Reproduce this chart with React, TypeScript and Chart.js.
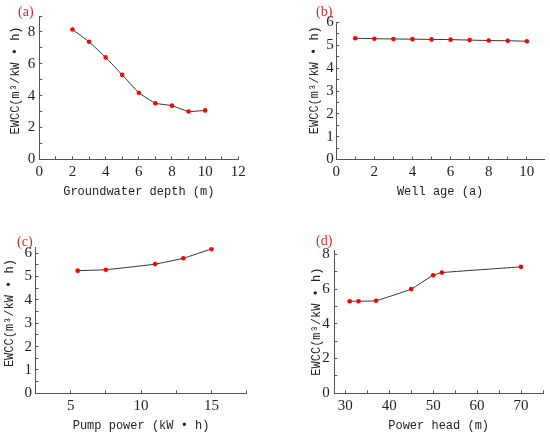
import { useEffect, useRef } from 'react'
import Chart from 'chart.js/auto'

// (a) groundwater depth
const depthX = [2, 3, 4, 5, 6, 7, 8, 9, 10]
const depthEwcc = [8.15, 7.38, 6.4, 5.3, 4.18, 3.52, 3.37, 3.0, 3.07]
const depthTicks = [0, 2, 4, 6, 8, 10, 12]

// (b) well age
const ageX = [1, 2, 3, 4, 5, 6, 7, 8, 9, 10]
const ageEwcc = [5.31, 5.29, 5.28, 5.27, 5.26, 5.25, 5.23, 5.21, 5.2, 5.18]
const ageTicks = [0, 2, 4, 6, 8, 10]

// (c) pump power
const pumpX = [5.5, 7.5, 11, 13, 15]
const pumpEwcc = [5.25, 5.29, 5.53, 5.78, 6.18]
const pumpTicks = [5, 10, 15]

// (d) power head
const headX = [31, 33, 37, 45, 50, 52, 70]
const headEwcc = [5.3, 5.3, 5.33, 6.0, 6.8, 6.95, 7.28]
const headTicks = [30, 40, 50, 60, 70]

const ewccEvenTicks = [0, 2, 4, 6, 8]
const ewccUnitTicks = [0, 1, 2, 3, 4, 5, 6]

const Y_TITLE = 'EWCC(m³/kW • h)'

interface PanelProps {
  tag: string
  xs: number[]
  ys: number[]
  xTitle: string
  xMin: number
  xMax: number
  xStep: number
  xLabels: number[]
  yMax: number
  yStep: number
  yLabels: number[]
  box: { left: number; top: number; width: number; height: number }
  area: { left: number; top: number; right: number; bottom: number }
  yTickPad: number
  yTitlePad: number
  yTitleLead: number
  xTitlePad: number
  tagPos: { left: number; top: number }
}

function Panel(p: PanelProps) {
  const chartRef = useRef<HTMLCanvasElement>(null)
  const chartInstance = useRef<Chart | null>(null)

  useEffect(() => {
    if (!chartRef.current) return
    if (chartInstance.current) chartInstance.current.destroy()
    const ctx = chartRef.current.getContext('2d')
    if (!ctx) return

    const yAxisWidth = p.area.left
    const xAxisHeight = p.box.height - p.area.bottom
    const axisColor = '#555'
    // leading spaces nudge the rotated title up, as in the original figure
    const yTitle = ' '.repeat(p.yTitleLead) + Y_TITLE

    chartInstance.current = new Chart(ctx, {
      type: 'line',
      data: {
        datasets: [
          {
            data: p.xs.map((x, i) => ({ x, y: p.ys[i] })),
            borderColor: '#333',
            borderWidth: 1,
            pointRadius: 2.3,
            pointBackgroundColor: '#ff0000',
            pointBorderWidth: 0,
            tension: 0.1,
            fill: false
          }
        ]
      },
      options: {
        animation: false,
        responsive: true,
        maintainAspectRatio: false,
        events: [],
        layout: {
          padding: { left: 0, top: p.area.top, right: p.box.width - p.area.right, bottom: 0 }
        },
        plugins: {
          legend: { display: false },
          tooltip: { enabled: false }
        },
        scales: {
          x: {
            type: 'linear',
            min: p.xMin,
            max: p.xMax,
            afterFit: (scale) => {
              scale.height = xAxisHeight
            },
            border: { display: true, color: axisColor, width: 1 },
            grid: { drawOnChartArea: false, drawTicks: true, tickLength: -3, color: axisColor },
            ticks: {
              stepSize: p.xStep,
              includeBounds: false,
              autoSkip: false,
              maxRotation: 0,
              padding: 7,
              color: '#222',
              font: { family: 'Liberation Serif', size: 15 },
              callback: (v) => (p.xLabels.includes(Number(v)) ? String(v) : '')
            },
            title: {
              display: true,
              text: p.xTitle,
              color: '#222',
              font: { family: 'Liberation Mono', size: 12 },
              padding: { top: 0, bottom: p.xTitlePad }
            }
          },
          y: {
            type: 'linear',
            min: 0,
            max: p.yMax,
            afterFit: (scale) => {
              scale.width = yAxisWidth
            },
            border: { display: true, color: axisColor, width: 1 },
            grid: { drawOnChartArea: false, drawTicks: true, tickLength: -3, color: axisColor },
            ticks: {
              stepSize: p.yStep,
              includeBounds: false,
              autoSkip: false,
              padding: p.yTickPad,
              color: '#222',
              font: { family: 'Liberation Serif', size: 15 },
              callback: (v) => (p.yLabels.includes(Number(v)) ? String(v) : '')
            },
            title: {
              display: true,
              text: yTitle,
              color: '#222',
              font: { family: 'Liberation Mono', size: 12 },
              padding: { top: p.yTitlePad, bottom: 0 }
            }
          }
        }
      }
    })

    return () => {
      if (chartInstance.current) {
        chartInstance.current.destroy()
        chartInstance.current = null
      }
    }
  }, [p])

  return (
    <>
      <div
        style={{
          position: 'absolute',
          left: p.box.left,
          top: p.box.top,
          width: p.box.width,
          height: p.box.height
        }}
      >
        <canvas ref={chartRef} />
      </div>
      <div
        style={{
          position: 'absolute',
          left: p.tagPos.left,
          top: p.tagPos.top,
          font: '14px "Liberation Serif"',
          lineHeight: '16px',
          color: '#d42a2a'
        }}
      >
        {p.tag}
      </div>
    </>
  )
}

const panels: PanelProps[] = [
  {
    tag: '(a)',
    xs: depthX,
    ys: depthEwcc,
    xTitle: 'Groundwater depth (m)',
    xMin: 0,
    xMax: 12,
    xStep: 1,
    xLabels: depthTicks,
    yMax: 9,
    yStep: 1,
    yLabels: ewccEvenTicks,
    box: { left: 0, top: 0, width: 275, height: 217 },
    area: { left: 39.3, top: 15, right: 238.3, bottom: 159.3 },
    yTickPad: 7,
    yTitlePad: 9,
    yTitleLead: 2,
    xTitlePad: 18,
    tagPos: { left: 18, top: 4.3 }
  },
  {
    tag: '(b)',
    xs: ageX,
    ys: ageEwcc,
    xTitle: 'Well age (a)',
    xMin: 0,
    xMax: 10.9,
    xStep: 1,
    xLabels: ageTicks,
    yMax: 6,
    yStep: 0.5,
    yLabels: ewccUnitTicks,
    box: { left: 275, top: 0, width: 275, height: 217 },
    area: { left: 61.2, top: 22.5, right: 269, bottom: 159.5 },
    yTickPad: 5.5,
    yTitlePad: 33,
    yTitleLead: 3,
    xTitlePad: 18,
    tagPos: { left: 316, top: 4.3 }
  },
  {
    tag: '(c)',
    xs: pumpX,
    ys: pumpEwcc,
    xTitle: 'Pump power (kW • h)',
    xMin: 2.5,
    xMax: 17.5,
    xStep: 2.5,
    xLabels: pumpTicks,
    yMax: 6.25,
    yStep: 0.5,
    yLabels: ewccUnitTicks,
    box: { left: 0, top: 217, width: 275, height: 220 },
    area: { left: 35.5, top: 30.3, right: 246.7, bottom: 176.3 },
    yTickPad: 6.5,
    yTitlePad: 2.5,
    yTitleLead: 2,
    xTitlePad: 3.5,
    tagPos: { left: 17, top: 233.7 }
  },
  {
    tag: '(d)',
    xs: headX,
    ys: headEwcc,
    xTitle: 'Power head (m)',
    xMin: 27.5,
    xMax: 75,
    xStep: 5,
    xLabels: headTicks,
    yMax: 8.25,
    yStep: 1,
    yLabels: ewccEvenTicks,
    box: { left: 275, top: 217, width: 275, height: 220 },
    area: { left: 59.3, top: 33, right: 270, bottom: 176.3 },
    yTickPad: 7.5,
    yTitlePad: 34.5,
    yTitleLead: 0,
    xTitlePad: 3.8,
    tagPos: { left: 316, top: 233 }
  }
]

export default function App() {
  return (
    <div
      style={{
        position: 'absolute',
        left: 0,
        top: 0,
        width: 550,
        height: 437,
        background: '#fff',
        overflow: 'hidden'
      }}
    >
      {panels.map((p) => (
        <Panel key={p.tag} {...p} />
      ))}
    </div>
  )
}
